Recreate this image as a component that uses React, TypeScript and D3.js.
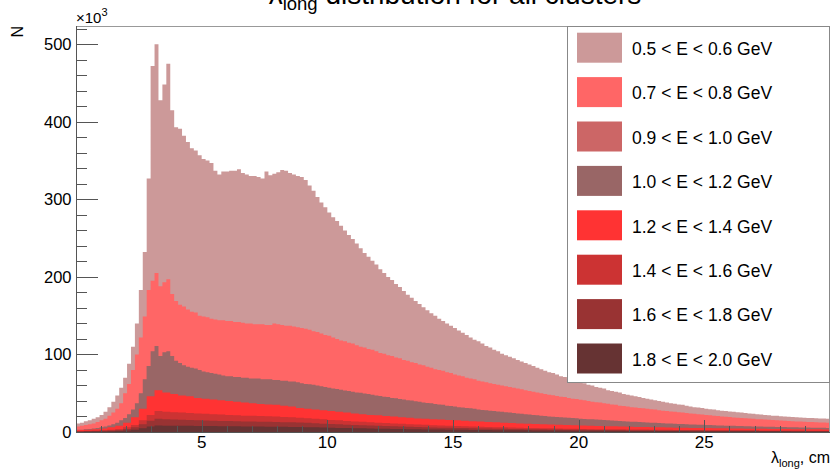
import React from 'react';
import * as d3 from 'd3';

// λ_long histograms (counts in units of 10^3), range 0..30 cm
const X_MIN = 0;
const X_MAX = 30;
const Y_MAX = 523.6;

const seriesLabels = [
  '0.5 < E < 0.6 GeV',
  '0.7 < E < 0.8 GeV',
  '0.9 < E < 1.0 GeV',
  '1.0 < E < 1.2 GeV',
  '1.2 < E < 1.4 GeV',
  '1.4 < E < 1.6 GeV',
  '1.6 < E < 1.8 GeV',
  '1.8 < E < 2.0 GeV',
];
const seriesColors = ['#cc9999', '#ff6666', '#cc6666', '#996666', '#ff3333', '#cc3333', '#993333', '#663333'];

const xMajorTicks = [5, 10, 15, 20, 25];
const yMajorTicks = [0, 100, 200, 300, 400, 500];

const e05 = [
  11, 12, 14, 15, 17, 19, 22, 26, 32, 39, 47, 57, 70, 88, 110, 140, 183, 232,
  327, 472, 500, 428, 448, 475, 415, 393, 391, 382, 374, 366, 363, 357, 352, 350, 347, 337, 332,
  336, 336, 337, 337, 339, 334, 332, 330, 330, 329, 327, 336, 331, 333, 335, 338, 337, 334, 332, 330, 329,
  325, 318, 311, 303, 296, 290, 283, 277, 272, 266, 260, 254, 249, 243, 237, 231, 226, 221, 216, 210,
  205, 200, 196, 191, 187, 182, 177, 173, 169, 165, 161, 157, 153, 150, 146, 143, 140, 137, 134, 131,
  128, 125, 122, 119, 117, 114, 111, 109, 106, 104, 101, 99, 97, 95, 93, 91, 89, 87, 85, 83,
  81, 79, 77, 76, 74, 72, 71, 69, 67, 66, 64, 63, 61, 60, 58, 57, 56, 54, 53, 52,
  51, 49, 48, 47, 46, 45, 44, 43, 42, 41, 40, 39, 38, 37, 36.5, 35.5, 35, 34, 33, 32,
  31.5, 31, 30, 29.5, 29, 28, 27.5, 27, 26.5, 26, 25.5, 25, 24.5, 24, 23.5, 23, 22.5, 22, 21.5, 21,
  20.8, 20.4, 20, 19.6, 19.3, 19, 18.7, 18.4, 18.1, 17.9, 17.7, 17.5, 17.3, 17.1,
];

const e07 = [
  7, 8, 9, 10, 11, 13, 15, 17, 21, 25, 30, 37, 50, 62, 80, 100, 122, 149,
  183, 195, 205, 188, 193, 197, 178, 169, 164, 162, 158, 155, 154, 150, 149, 148, 146, 145, 144,
  144, 143, 143, 142, 142, 141, 140, 140, 139, 139, 139, 138, 138, 140, 139, 138, 137, 137, 136, 135, 134,
  133, 132, 130, 129, 127, 125, 124, 122, 120, 118, 117, 115, 114, 112, 110, 109, 107, 106, 104, 102,
  101, 99, 98, 96, 95, 93, 92, 90, 89, 87, 86, 84, 83, 81, 80, 79, 77, 76, 74, 73,
  72, 70, 69, 68, 66, 65, 64, 63, 62, 61, 60, 59, 58, 57, 56, 55, 54, 53, 52, 51,
  50, 49, 48, 47.5, 46.5, 45.5, 45, 44, 43, 42.5, 41.5, 41, 40, 39, 38.5, 38, 37, 36.5, 35.5, 35,
  34, 33.5, 33, 32, 31.5, 31, 30.5, 30, 29.5, 29, 28, 27.5, 27, 26.5, 26, 25.5, 25, 24.5, 24, 23.5,
  23, 22.5, 22, 21.5, 21, 20.5, 20, 19.6, 19.2, 18.8, 18.4, 18, 17.6, 17.3, 17, 16.6, 16.3, 16, 15.7, 15.4,
  15.1, 14.8, 14.5, 14.2, 14, 13.7, 13.5, 13.2, 13, 12.8, 12.6, 12.4, 12.2, 12,
];

const e09 = [
  2.5, 3.2, 4, 5.5, 7.5, 11, 16, 27, 48, 85, 92, 88, 78, 73, 70, 68, 66, 64, 63, 62,
  61, 60, 60, 59, 59, 58, 57, 56, 54, 51, 48, 46, 44, 42, 40, 38, 36, 34, 33, 31,
  30, 29, 27, 26, 25, 24, 23, 22, 21, 20, 19, 18, 17, 16.5, 15.8, 15, 14.4, 13.8, 13.2, 12.6,
  12, 11.5, 11, 10.5, 10, 9.6, 9.2, 8.8, 8.4, 8, 7.6, 7.3, 7, 6.7, 6.4, 6.1, 5.9, 5.6, 5.4, 5.2,
  5, 4.8, 4.6, 4.4, 4.2, 4.1, 3.9, 3.8, 3.6, 3.5, 3.4, 3.3, 3.2, 3.1, 3, 2.9,
];

const e10 = [
  3, 3, 3.5, 4, 4.5, 5, 6, 7, 8.5, 10, 12, 15, 18, 23, 29, 37, 50, 68,
  85, 104, 111, 98, 103, 104, 98, 92, 89, 86, 84, 83, 82, 80, 78, 77, 76, 75, 74,
  73, 72, 72, 71, 71, 70, 70, 69, 69, 69, 68, 68, 68, 67, 67, 66, 66, 65, 65, 64, 63,
  62, 61.5, 61, 60, 59, 58, 57, 56, 55.5, 54.5, 53.5, 53, 52, 51, 50.5, 49.5, 49, 48, 47, 46.5,
  45.5, 45, 44, 43.5, 42.5, 42, 41, 40.5, 39.5, 39, 38, 37.5, 37, 36, 35.5, 35, 34, 33.5, 33, 32,
  31.5, 31, 30.5, 30, 29, 28.5, 28, 27.5, 27, 26.5, 26, 25.5, 25, 24.5, 24, 23.5, 23, 22.5, 22, 21.5,
  21, 20.5, 20, 19.7, 19.3, 19, 18.6, 18.3, 17.9, 17.6, 17.2, 16.9, 16.6, 16.3, 16, 15.7, 15.4, 15.1, 14.8, 14.5,
  14.2, 13.9, 13.6, 13.3, 13.1, 12.8, 12.5, 12.3, 12, 11.8, 11.5, 11.3, 11.1, 10.9, 10.6, 10.4, 10.2, 10, 9.8, 9.6,
  9.4, 9.2, 9, 8.9, 8.7, 8.5, 8.4, 8.2, 8.1, 7.9, 7.8, 7.6, 7.5, 7.4, 7.2, 7.1, 7, 6.9, 6.8, 6.7,
  6.5, 6.4, 6.3, 6.2, 6.1, 6, 5.9, 5.8, 5.7, 5.6, 5.5, 5.5, 5.4, 5.3,
];

const e12 = [
  2.5, 3, 3.5, 4.5, 6, 8, 12, 19, 30, 46, 54, 51, 49, 47, 46, 44, 43, 42, 41, 40,
  39, 38, 37, 36, 35.5, 35, 34, 33, 31, 30, 29, 28, 27, 26, 25, 24, 23, 22, 21.5, 20.5,
  20, 19, 18.5, 17.5, 17, 16.5, 16, 15.5, 15, 14.5, 14, 13.5, 13, 12.5, 12, 11.5, 11, 10.7, 10.3, 10,
  9.6, 9.3, 9, 8.7, 8.4, 8.1, 7.8, 7.5, 7.3, 7, 6.8, 6.6, 6.4, 6.2, 6, 5.8, 5.6, 5.5, 5.3, 5.1,
  5, 4.8, 4.7, 4.6, 4.4, 4.3, 4.2, 4.1, 4, 3.9, 3.8, 3.7, 3.6, 3.5, 3.4, 3.3,
];

const e14 = [
  1.2, 1.5, 1.8, 2.3, 3, 4, 6, 9, 15, 22, 27, 26, 25.5, 25, 24.5, 24, 23.5, 23, 22.5, 22,
  21.5, 21, 20.8, 20.5, 20.2, 20, 19.5, 19, 18.5, 17.8, 17, 16.3, 15.6, 15, 14.3, 13.7, 13.1, 12.5, 12, 11.5,
  11, 10.5, 10, 9.6, 9.2, 8.8, 8.4, 8, 7.7, 7.4, 7.1, 6.8, 6.5, 6.2, 6, 5.7, 5.5, 5.3, 5.1, 4.9,
  4.7, 4.5, 4.3, 4.2, 4, 3.9, 3.7, 3.6, 3.5, 3.4, 3.3, 3.2, 3.1, 3, 2.9, 2.8, 2.7, 2.6, 2.6, 2.5,
  2.4, 2.4, 2.3, 2.2, 2.2, 2.1, 2.1, 2, 2, 1.9, 1.9, 1.8, 1.8, 1.7, 1.7, 1.6,
];

const e16 = [
  0.8, 1, 1.2, 1.5, 2, 2.7, 4, 6, 10, 14.5, 17, 16.5, 16, 15.7, 15.4, 15.1, 14.8, 14.5, 14.3, 14.1,
  13.9, 13.7, 13.5, 13.3, 13.1, 12.9, 12.7, 12.5, 12.2, 11.8, 11.3, 10.8, 10.3, 9.9, 9.5, 9.1, 8.7, 8.3, 7.9, 7.6,
  7.3, 7, 6.7, 6.4, 6.1, 5.9, 5.6, 5.4, 5.2, 5, 4.8, 4.6, 4.4, 4.2, 4.1, 3.9, 3.8, 3.6, 3.5, 3.4,
  3.2, 3.1, 3, 2.9, 2.8, 2.7, 2.6, 2.5, 2.4, 2.4, 2.3, 2.2, 2.2, 2.1, 2, 2, 1.9, 1.9, 1.8, 1.8,
  1.7, 1.7, 1.6, 1.6, 1.5, 1.5, 1.5, 1.4, 1.4, 1.4, 1.3, 1.3, 1.3, 1.2, 1.2, 1.2,
];

const e18 = [
  0.4, 0.5, 0.6, 0.7, 0.9, 1.2, 1.8, 2.8, 4.8, 7, 8.3, 8.2, 8.1, 8, 7.9, 7.8, 7.7, 7.6, 7.5, 7.4,
  7.3, 7.2, 7.1, 7, 6.9, 6.8, 6.7, 6.6, 6.4, 6.2, 6, 5.7, 5.5, 5.3, 5.1, 4.9, 4.7, 4.5, 4.3, 4.1,
  3.9, 3.8, 3.6, 3.5, 3.3, 3.2, 3.1, 3, 2.9, 2.8, 2.7, 2.6, 2.5, 2.4, 2.3, 2.2, 2.2, 2.1, 2, 2,
  1.9, 1.8, 1.8, 1.7, 1.7, 1.6, 1.6, 1.5, 1.5, 1.5, 1.4, 1.4, 1.3, 1.3, 1.3, 1.2, 1.2, 1.2, 1.1, 1.1,
  1.1, 1.1, 1, 1, 1, 1, 0.9, 0.9, 0.9, 0.9, 0.9, 0.8, 0.8, 0.8, 0.8, 0.8,
];

const seriesValues = [e05, e07, e09, e10, e12, e14, e16, e18];

const FONT = '"Liberation Sans", Arial, Helvetica, sans-serif';

export default function App() {
  const W = 832;
  const H = 472;
  const left = 76;
  const right = 830;
  const top = 26;
  const bottom = 432;

  const x = d3.scaleLinear().domain([X_MIN, X_MAX]).range([left, right]);
  const y = d3.scaleLinear().domain([0, Y_MAX]).range([bottom, top]);

  const area = d3
    .area<[number, number]>()
    .curve(d3.curveStepAfter)
    .x((d) => x(d[0]))
    .y0(y(0))
    .y1((d) => y(d[1]));

  const paths = seriesValues.map((vals) => {
    const w = (X_MAX - X_MIN) / vals.length;
    const pts: [number, number][] = vals.map((v, i) => [X_MIN + i * w, v]);
    pts.push([X_MAX, vals[vals.length - 1]]);
    return area(pts) || '';
  });

  const yMinor = d3.range(0, Y_MAX, 20).filter((v) => v % 100 !== 0);
  const xMinor = d3.range(1, 30, 1).filter((v) => v % 5 !== 0);

  const legX = 567;
  const legY = 26;
  const legW = 263;
  const legH = 356;
  const entryH = 44.4;

  const axisColor = '#555';

  return (
    <svg width={W} height={H} style={{ position: 'absolute', left: 0, top: 0, background: '#fff' }}>
      <rect x={0} y={0} width={W} height={H} fill="#fff" />
      <defs>
        <clipPath id="plotClip">
          <rect x={left} y={top} width={right - left} height={bottom - top} />
        </clipPath>
      </defs>
      <g clipPath="url(#plotClip)">
        {paths.map((p, i) => (
          <path key={i} d={p} fill={seriesColors[i]} stroke="none" />
        ))}
      </g>

      {/* frame */}
      <line x1={left} x2={right} y1={top + 0.5} y2={top + 0.5} stroke="#999" strokeWidth={1} />
      <line x1={right - 0.5} x2={right - 0.5} y1={top} y2={bottom} stroke="#999" strokeWidth={1} />

      {/* y axis */}
      <line x1={left + 0.5} x2={left + 0.5} y1={top} y2={bottom} stroke={axisColor} strokeWidth={1} />
      {yMajorTicks.map((t) => (
        <g key={'ym' + t}>
          <line x1={left} x2={left + 22} y1={Math.round(y(t)) + 0.5} y2={Math.round(y(t)) + 0.5} stroke={axisColor} />
          <text x={71.5} y={y(t)} dy="0.36em" textAnchor="end" fontFamily={FONT} fontSize={16.5} fill="#000">
            {t}
          </text>
        </g>
      ))}
      {yMinor.map((t) => (
        <line key={'yn' + t} x1={left} x2={left + 11} y1={Math.round(y(t)) + 0.5} y2={Math.round(y(t)) + 0.5} stroke={axisColor} />
      ))}

      {/* x axis */}
      <line x1={left} x2={right} y1={bottom + 0.5} y2={bottom + 0.5} stroke={axisColor} strokeWidth={1} />
      {xMajorTicks.map((t) => (
        <g key={'xm' + t}>
          <line x1={Math.round(x(t)) + 0.5} x2={Math.round(x(t)) + 0.5} y1={bottom} y2={bottom - 12} stroke={axisColor} />
          <text x={x(t)} y={448} textAnchor="middle" fontFamily={FONT} fontSize={17} fill="#000">
            {t}
          </text>
        </g>
      ))}
      {xMinor.map((t) => (
        <line key={'xn' + t} x1={Math.round(x(t)) + 0.5} x2={Math.round(x(t)) + 0.5} y1={bottom} y2={bottom - 6} stroke={axisColor} />
      ))}

      {/* exponent */}
      <text x={76} y={23} fontFamily={FONT} fontSize={15} fill="#000">
        ×10
        <tspan fontSize={11} dy={-7}>3</tspan>
      </text>

      {/* y title */}
      <text transform={`translate(23,${top}) rotate(-90)`} textAnchor="end" fontFamily={FONT} fontSize={16} fill="#000">
        N
      </text>

      {/* x title */}
      <text x={830} y={463} textAnchor="end" fontFamily={FONT} fontSize={16} fill="#000">
        λ<tspan fontSize={11} dy={4}>long</tspan>
        <tspan dy={-4}>, cm</tspan>
      </text>

      {/* title (mostly above the top edge, as in the reference) */}
      <text x={455} y={4} textAnchor="middle" fontFamily={FONT} fontSize={28} fill="#000">
        λ<tspan fontSize={18.5} dy={5.5}>long</tspan>
        <tspan dy={-5.5}> distribution for all clusters</tspan>
      </text>

      {/* legend */}
      <rect x={legX + 0.5} y={legY + 0.5} width={legW - 1} height={legH} fill="#fff" stroke="#888" strokeWidth={1} />
      {seriesLabels.map((lab, i) => (
        <g key={lab}>
          <rect x={577} y={32.7 + i * entryH} width={45} height={30} fill={seriesColors[i]} />
          <text x={632} y={55 + i * entryH} fontFamily={FONT} fontSize={17.5} fill="#000">
            {lab}
          </text>
        </g>
      ))}
    </svg>
  );
}
